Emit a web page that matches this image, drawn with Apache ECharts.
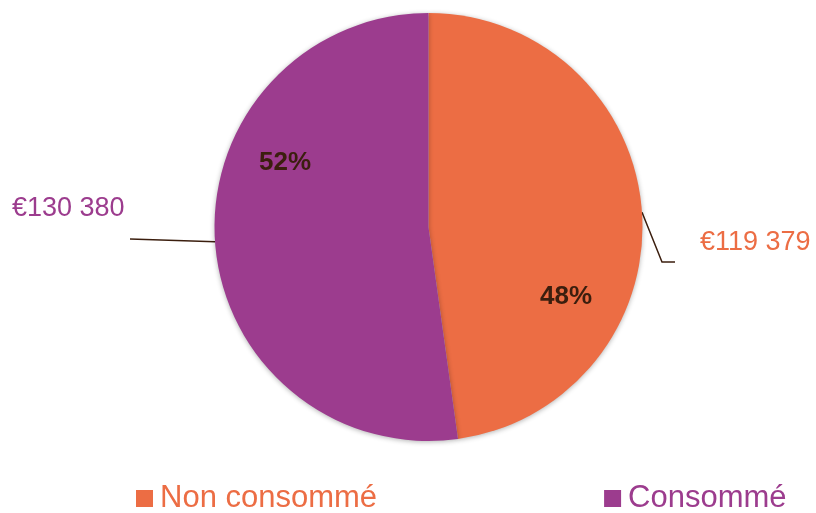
<!DOCTYPE html>
<html>
<head>
<meta charset="utf-8">
<script src="https://cdn.jsdelivr.net/npm/echarts@6/dist/echarts.min.js"></script>
<style>
html,body{margin:0;padding:0;background:#fff;}
#chart{width:816px;height:513px;}
</style>
</head>
<body>
<div id="chart"></div>
<script>
const categories = ['Non consommé', 'Consommé'];
const values = [119379, 130380];

const colors = ['#EC6D44', '#9C3C8E'];
const textDark = '#3B1E0E';
const font = '"Liberation Sans", Arial, sans-serif';
const total = values.reduce((a, b) => a + b, 0);

function fmtEuro(v) {
  return '€' + String(v).replace(/\B(?=(\d{3})+(?!\d))/g, ' ');
}

const center = [428.5, 227];
const radius = 214;

const chart = echarts.init(document.getElementById('chart'), null, {renderer: 'canvas'});

const outerLayout = {
  0: {x: 700, y: 243, line: [[662, 262], [675, 262]]},
  1: {x: 12, y: 209, line: [[130, 239]]}
};
const innerLayout = {
  0: {x: 566, y: 297},
  1: {x: 285, y: 163}
};

chart.setOption({
  animation: false,
  color: colors,
  legend: {
    left: 136,
    top: 483,
    padding: 0,
    itemWidth: 17,
    itemHeight: 17,
    itemGap: 227,
    icon: 'rect',
    textStyle: {fontSize: 31, fontFamily: font, padding: [0, 0, 0, 2]},
    data: categories.map((c, i) => ({name: c, textStyle: {color: colors[i]}})),
    selectedMode: false
  },
  series: [
    {
      type: 'pie',
      center: center,
      radius: radius,
      startAngle: 90,
      clockwise: true,
      silent: true,
      itemStyle: {
        shadowBlur: 5,
        shadowColor: 'rgba(0,0,0,0.3)',
        shadowOffsetX: 0,
        shadowOffsetY: 1
      },
      data: categories.map((c, i) => ({
        name: c,
        value: values[i],
        itemStyle: {color: colors[i]},
        label: {color: colors[i]}
      })),
      label: {
        show: true,
        position: 'outside',
        formatter: p => fmtEuro(p.value),
        fontSize: 27,
        fontFamily: font
      },
      labelLine: {
        show: true,
        lineStyle: {color: textDark, width: 1.5}
      },
      labelLayout: function (params) {
        const L = outerLayout[params.dataIndex];
        const start = params.labelLinePoints ? params.labelLinePoints[0] : null;
        const res = {x: L.x, y: L.y, align: 'left', verticalAlign: 'middle'};
        if (start) res.labelLinePoints = [start].concat(L.line);
        return res;
      }
    },
    {
      type: 'pie',
      center: center,
      radius: radius,
      startAngle: 90,
      clockwise: true,
      silent: true,
      itemStyle: {color: 'rgba(0,0,0,0)'},
      data: categories.map((c, i) => ({name: c, value: values[i]})),
      label: {
        show: true,
        position: 'inside',
        formatter: p => Math.round(p.value / total * 100) + '%',
        fontSize: 26,
        fontWeight: 'bold',
        fontFamily: font,
        color: textDark
      },
      labelLine: {show: false},
      labelLayout: function (params) {
        const L = innerLayout[params.dataIndex];
        return {x: L.x, y: L.y, align: 'center', verticalAlign: 'middle'};
      }
    }
  ]
});
</script>
</body>
</html>
